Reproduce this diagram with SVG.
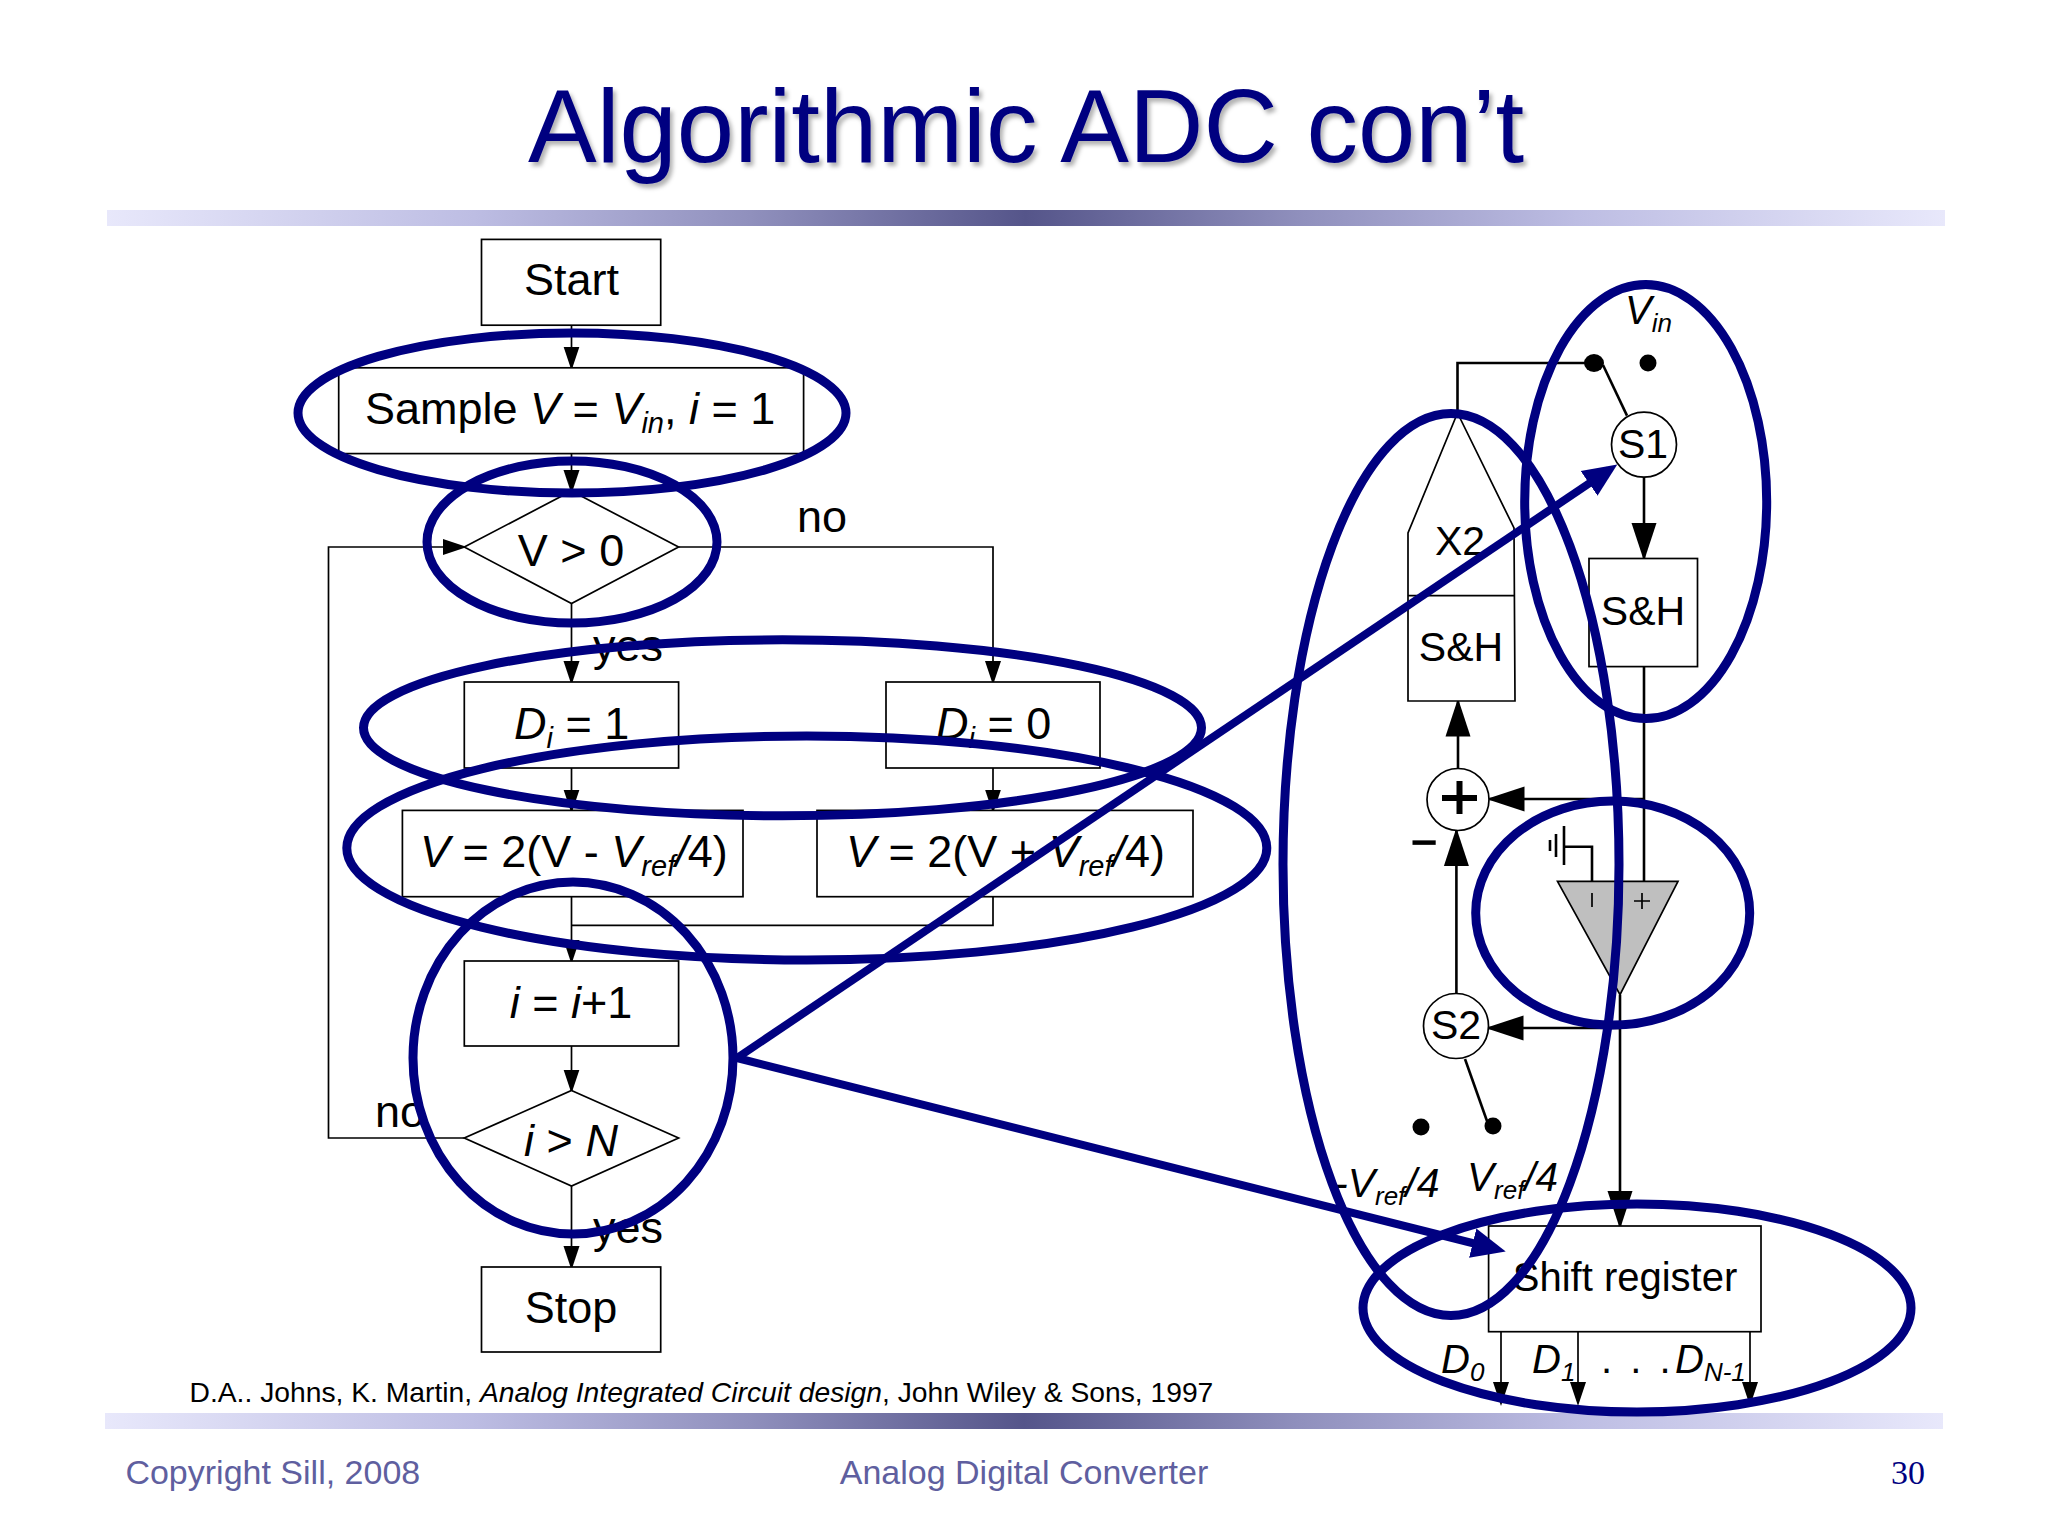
<svg xmlns="http://www.w3.org/2000/svg" width="2048" height="1536" viewBox="0 0 2048 1536">
<style>
text{font-family:"Liberation Sans",Arial,sans-serif;fill:#000}
.f{font-size:45px}
.c{font-size:41px}
.m{text-anchor:middle}
.i{font-style:italic}
.s{font-size:29px;font-style:italic}
.s2{font-size:26px;font-style:italic}
.b{fill:#fff;stroke:#000;stroke-width:1.7}
.w{fill:#fff;stroke:#000;stroke-width:1.7}
.l{fill:none;stroke:#000;stroke-width:1.7}
.la{fill:none;stroke:#000;stroke-width:1.7;marker-end:url(#sm)}
.cl{fill:none;stroke:#000;stroke-width:2.6}
.ca{fill:none;stroke:#000;stroke-width:2.6;marker-end:url(#lg)}
.e{fill:none;stroke:#000080;stroke-width:9}
.na{fill:none;stroke:#000080;stroke-width:8;marker-end:url(#nv)}
.foot{font-size:34px;fill:#5f5f9f}
</style>
<defs>
<marker id="sm" markerUnits="userSpaceOnUse" markerWidth="26" markerHeight="18" refX="21" refY="8.5" orient="auto"><path d="M0,0.5 L24,8.5 L0,16.5Z" fill="#000"/></marker>
<marker id="lg" markerUnits="userSpaceOnUse" markerWidth="40" markerHeight="27" refX="35" refY="13" orient="auto"><path d="M0,0.5 L38,13 L0,25.5Z" fill="#000"/></marker>
<marker id="nv" markerUnits="userSpaceOnUse" markerWidth="36" markerHeight="36" refX="24" refY="18" orient="auto"><path d="M0,3 L34,18 L0,33Z" fill="#000080"/></marker>
<linearGradient id="bar" x1="0" x2="1" y1="0" y2="0">
<stop offset="0" stop-color="#e8e8fb"/><stop offset="0.2" stop-color="#bdbde3"/><stop offset="0.35" stop-color="#9090bd"/><stop offset="0.5" stop-color="#55558a"/><stop offset="0.65" stop-color="#9090bd"/><stop offset="0.8" stop-color="#bdbde3"/><stop offset="1" stop-color="#e8e8fb"/>
</linearGradient>
<filter id="sh" x="-5%" y="-20%" width="110%" height="140%"><feDropShadow dx="3" dy="4" stdDeviation="2.2" flood-color="#000" flood-opacity="0.3"/></filter>
</defs>
<rect width="2048" height="1536" fill="#fff"/>
<g id="title"><text x="528" y="162" font-size="103" style="fill:#000080" filter="url(#sh)">Algorithmic ADC con’t</text></g>
<rect id="top-bar" x="107" y="210" width="1838" height="16" fill="url(#bar)"/>
<rect id="bottom-bar" x="105" y="1413" width="1838" height="16" fill="url(#bar)"/>
<g id="connectors">
<line class="la" x1="571.5" y1="325" x2="571.5" y2="367.5"/>
<line class="la" x1="571.5" y1="453.6" x2="571.5" y2="491"/>
<path class="la" d="M464,1138 H328.5 V547 H464"/>
<path class="la" d="M678.6,547 H993 V682"/>
<line class="la" x1="571.5" y1="603.5" x2="571.5" y2="682"/>
<line class="la" x1="571.5" y1="768" x2="571.5" y2="810.5"/>
<line class="la" x1="993" y1="768" x2="993" y2="810.5"/>
<line class="la" x1="571.5" y1="896.7" x2="571.5" y2="961"/>
<path class="l" d="M993,896.7 V925.3 H571.5"/>
<line class="la" x1="571.5" y1="1046" x2="571.5" y2="1090.5"/>
<line class="la" x1="571.5" y1="1186" x2="571.5" y2="1267"/>
<path class="cl" d="M1457.5,413 V363 H1594"/>
<line class="cl" x1="1603" y1="365" x2="1627" y2="415.6"/>
<line class="ca" x1="1644" y1="477" x2="1644" y2="558"/>
<line class="cl" x1="1644" y1="666.6" x2="1644" y2="881.4"/>
<line class="ca" x1="1458" y1="768.7" x2="1458" y2="701.5"/>
<line class="ca" x1="1644" y1="799" x2="1489.5" y2="799"/>
<line class="ca" x1="1456.4" y1="994.7" x2="1456.4" y2="831"/>
<line class="ca" x1="1620" y1="1028" x2="1488.5" y2="1028"/>
<line class="cl" x1="1465" y1="1059" x2="1487.7" y2="1123"/>
<line class="ca" x1="1620" y1="994.7" x2="1620" y2="1226"/>
<line class="la" x1="1501" y1="1332" x2="1501" y2="1403"/>
<line class="la" x1="1578" y1="1332" x2="1578" y2="1403"/>
<line class="la" x1="1750" y1="1332" x2="1750" y2="1403"/>
</g>
<g id="start"><rect class="b" x="481.5" y="239.4" width="179.2" height="85.8"/><text class="f m" x="571.5" y="295">Start</text></g>
<g id="sample"><rect class="b" x="338.7" y="367.8" width="464.9" height="85.8"/><text class="f" x="365" y="424">Sample <tspan class="i">V</tspan> = <tspan class="i">V</tspan><tspan class="s" dy="9">in</tspan><tspan dy="-9">,</tspan> <tspan class="i">i</tspan> = 1</text></g>
<g id="v-gt-0"><polygon class="b" points="571.5,491 678.6,547 571.5,603.5 464.3,547"/><text class="f m" x="571" y="566">V &gt; 0</text></g>
<g id="d1"><rect class="b" x="464.3" y="682" width="214.3" height="86"/><text class="f" x="514" y="739"><tspan class="i">D</tspan><tspan class="s" dy="9">i</tspan><tspan dy="-9"> = 1</tspan></text></g>
<g id="d0"><rect class="b" x="886" y="682" width="214" height="86"/><text class="f" x="936" y="739"><tspan class="i">D</tspan><tspan class="s" dy="9">i</tspan><tspan dy="-9"> = 0</tspan></text></g>
<g id="v-minus"><rect class="b" x="402.4" y="810.4" width="340.6" height="86.3"/><text class="f" x="420" y="867"><tspan class="i">V</tspan> = 2(V - <tspan class="i">V</tspan><tspan class="s" dy="9">ref</tspan><tspan dy="-9" class="i">/</tspan>4)</text></g>
<g id="v-plus"><rect class="b" x="817" y="810.4" width="376" height="86.3"/><text class="f" x="846" y="867"><tspan class="i">V</tspan> = 2(V + <tspan class="i">V</tspan><tspan class="s" dy="9">ref</tspan><tspan dy="-9" class="i">/</tspan>4)</text></g>
<g id="inc"><rect class="b" x="464.3" y="961" width="214.3" height="85"/><text class="f m" x="571" y="1018"><tspan class="i">i</tspan> = <tspan class="i">i</tspan>+1</text></g>
<g id="i-gt-n"><polygon class="b" points="571.5,1090.5 678.6,1138 571.5,1186 464.3,1138"/><text class="f m" x="571" y="1156"><tspan class="i">i</tspan> &gt; <tspan class="i">N</tspan></text></g>
<g id="stop"><rect class="b" x="481.5" y="1267" width="179.2" height="85"/><text class="f m" x="571" y="1323">Stop</text></g>
<g id="flow-labels">
<text class="f" x="797" y="532">no</text>
<text class="f" x="593" y="661">yes</text>
<text class="f" x="375" y="1127">no</text>
<text class="f" x="593" y="1243">yes</text>
</g>
<g id="s1"><circle class="w" cx="1644" cy="444.6" r="32.5"/><text class="c m" x="1643" y="458">S1</text></g>
<g id="vin-contacts"><ellipse cx="1594" cy="363" rx="10" ry="9"/><circle cx="1648" cy="363" r="8.5"/><text x="1625" y="324" font-size="40" class="i">V<tspan class="s2" dy="8">in</tspan></text></g>
<g id="sh-right"><rect class="b" x="1589" y="558.5" width="108.5" height="108.1"/><text class="c m" x="1643" y="625">S&amp;H</text></g>
<g id="x2-sh"><polygon class="b" points="1408,701 1408,533 1457.5,413 1514,528 1515,701"/><line class="l" x1="1408" y1="595.7" x2="1515" y2="595.7"/><text class="c m" x="1460" y="555">X2</text><text class="c m" x="1461" y="661">S&amp;H</text></g>
<g id="sum"><circle class="w" cx="1458" cy="799.5" r="31"/><path d="M1442,798 H1477 M1459.5,781 V814" fill="none" stroke="#000" stroke-width="6"/><line x1="1412.5" y1="842.6" x2="1435.7" y2="842.6" stroke="#000" stroke-width="4.5"/></g>
<g id="comparator"><polygon points="1557.5,881.4 1678,881.4 1620,994.7" fill="#bfbfbf" stroke="#000" stroke-width="1.7"/>
<path class="cl" d="M1592,881.4 V846.7 H1564 M1564,826 V865 M1556,834 V857 M1550,840 V851"/>
<path class="l" d="M1592,893 V907 M1634,901 H1650 M1642,893 V909"/></g>
<g id="s2"><circle class="w" cx="1456" cy="1026" r="32.5"/><text class="c m" x="1456" y="1039">S2</text></g>
<g id="vref-contacts"><ellipse cx="1421" cy="1127" rx="8.5" ry="8.5"/><circle cx="1493" cy="1126" r="8.5"/>
<text x="1334" y="1197" font-size="41" class="i">-V<tspan class="s2" dy="8">ref</tspan><tspan dy="-8">/4</tspan></text>
<text x="1467" y="1191" font-size="40.5" class="i">V<tspan class="s2" dy="8">ref</tspan><tspan dy="-8">/4</tspan></text></g>
<g id="shift-register"><rect class="b" x="1488.6" y="1226" width="272.4" height="105.7"/><text x="1625" y="1291" font-size="40" text-anchor="middle">Shift register</text></g>
<g id="outputs" font-size="40">
<text x="1441" y="1373" class="i">D<tspan class="s2" dy="8">0</tspan></text>
<text x="1532" y="1373" class="i">D<tspan class="s2" dy="8">1</tspan></text>
<text x="1601" y="1373"><tspan letter-spacing="3.5">. . .</tspan><tspan x="1675" class="i">D</tspan><tspan class="s2" dy="8">N-1</tspan></text>
</g>
<g id="citation"><text x="189.5" y="1402" font-size="28.25">D.A.. Johns, K. Martin, <tspan class="i">Analog Integrated Circuit design</tspan>, John Wiley &amp; Sons, 1997</text></g>
<g id="highlights">
<ellipse class="e" cx="572" cy="413" rx="274" ry="80"/>
<ellipse class="e" cx="572" cy="542" rx="145" ry="81"/>
<ellipse class="e" cx="782.5" cy="727.8" rx="419" ry="88"/>
<ellipse class="e" cx="806.8" cy="848" rx="460" ry="112"/>
<ellipse class="e" cx="573" cy="1058" rx="160" ry="176"/>
<ellipse class="e" cx="1451" cy="864.6" rx="168" ry="451"/>
<ellipse class="e" cx="1645.7" cy="501.6" rx="121" ry="217"/>
<ellipse class="e" cx="1612.7" cy="913" rx="137" ry="112"/>
<ellipse class="e" cx="1637" cy="1308" rx="274" ry="104"/>
<line class="na" x1="737" y1="1058" x2="1609" y2="470"/>
<line class="na" x1="737" y1="1058" x2="1496" y2="1249"/>
</g>
<g id="footer">
<text class="foot" x="125.4" y="1484">Copyright Sill, 2008</text>
<text class="foot m" x="1024" y="1484">Analog Digital Converter</text>
<text x="1925" y="1484" font-size="34" text-anchor="end" style="font-family:'Liberation Serif',serif;fill:#000080">30</text>
</g>
</svg>
